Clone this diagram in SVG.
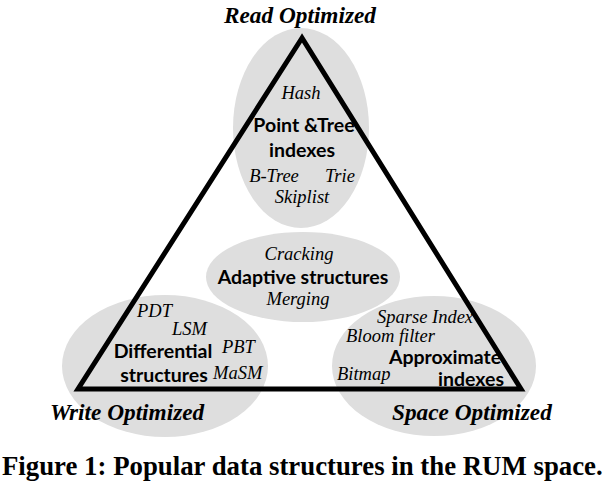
<svg xmlns="http://www.w3.org/2000/svg" width="610" height="484" viewBox="0 0 610 484">
<style>
.blob{fill:#dedede;stroke:none}
.it{font-family:"Liberation Serif",serif;font-style:italic;font-size:18.5px;fill:#000}
.bs{font-family:Lato,"Liberation Sans",sans-serif;font-weight:bold;font-size:19.5px;fill:#000;text-anchor:middle}
.corner{font-family:"Liberation Serif",serif;font-style:italic;font-weight:bold;font-size:23.3px;fill:#000}
.cap{font-family:"Liberation Serif",serif;font-weight:bold;font-size:26.8px;fill:#000}
.tri{fill:none;stroke:#000;stroke-width:5;stroke-linejoin:miter}
</style>
<rect width="610" height="484" fill="#fff"/>
<g id="ellipses">
<ellipse class="blob" cx="301" cy="128" rx="68" ry="100"/>
<ellipse class="blob" cx="303" cy="277" rx="97" ry="45"/>
<ellipse class="blob" cx="165" cy="366" rx="103" ry="71"/>
<ellipse class="blob" cx="434" cy="366" rx="102" ry="70"/>
</g>
<g id="connectors">
<polygon class="tri" points="302,38 78,389 521,389"/>
</g>
<g id="read-node">
<text class="it" x="301" y="99" text-anchor="middle">Hash</text>
<text class="bs" x="304" y="132">Point &amp;Tree</text>
<text class="bs" x="302" y="157">indexes</text>
<text class="it" x="274" y="182" text-anchor="middle">B-Tree</text>
<text class="it" x="340" y="182" text-anchor="middle">Trie</text>
<text class="it" x="302" y="203" text-anchor="middle">Skiplist</text>
</g>
<g id="adaptive-node">
<text class="it" x="299" y="260" text-anchor="middle">Cracking</text>
<text class="bs" x="303" y="284">Adaptive structures</text>
<text class="it" x="298" y="305" text-anchor="middle">Merging</text>
</g>
<g id="write-node">
<text class="it" x="137" y="317">PDT</text>
<text class="it" x="172" y="335">LSM</text>
<text class="it" x="222" y="353">PBT</text>
<text class="it" x="213" y="379">MaSM</text>
<text class="bs" x="163" y="358">Differential</text>
<text class="bs" x="164" y="382">structures</text>
</g>
<g id="space-node">
<text class="it" x="377" y="323">Sparse Index</text>
<text class="it" x="346" y="342">Bloom filter</text>
<text class="bs" x="445" y="364">Approximate</text>
<text class="it" x="337" y="380">Bitmap</text>
<text class="bs" x="471" y="386">indexes</text>
</g>
<g id="corner-labels">
<text class="corner" x="300" y="23" text-anchor="middle">Read Optimized</text>
<text class="corner" x="50" y="420">Write Optimized</text>
<text class="corner" x="392" y="420">Space Optimized</text>
</g>
<text class="cap" x="2" y="475">Figure 1: Popular data structures in the RUM space.</text>
</svg>
